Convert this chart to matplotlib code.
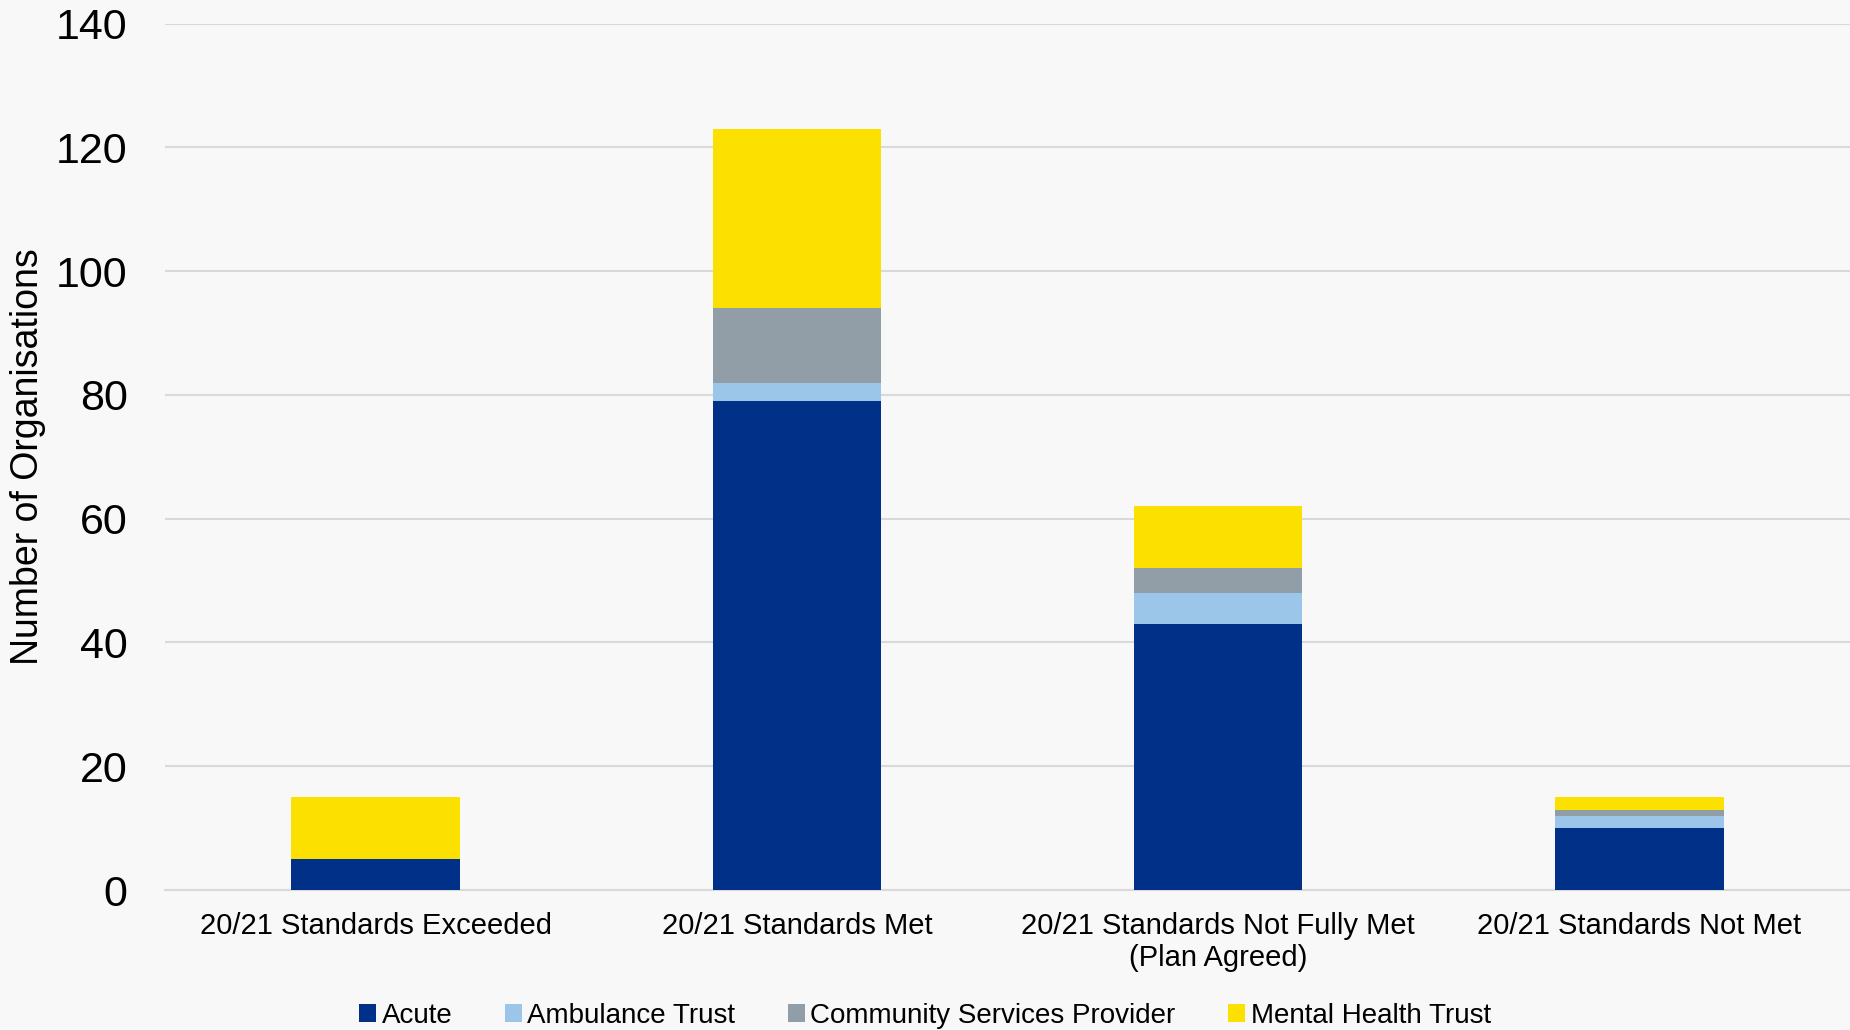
import matplotlib
matplotlib.use("Agg")
import matplotlib.pyplot as plt
import numpy as np

categories = ["20/21 Standards Exceeded", "20/21 Standards Met",
              "20/21 Standards Not Fully Met\n(Plan Agreed)", "20/21 Standards Not Met"]
series_names = ["Acute", "Ambulance Trust", "Community Services Provider", "Mental Health Trust"]
acute = [5, 79, 43, 10]
ambulance = [0, 3, 5, 2]
community = [0, 12, 4, 1]
mental_health = [10, 29, 10, 2]
colors = ["#003087", "#9BC6EA", "#919EA8", "#FCE000"]
yticks = [0, 20, 40, 60, 80, 100, 120, 140]

plt.rcParams['font.family'] = ['Liberation Sans', 'DejaVu Sans']
bg = "#f8f8f8"
fig = plt.figure(figsize=(18.5, 10.3), dpi=100, facecolor=bg)
ax = fig.add_axes([165/1850, 1 - 890/1030, (1850-165)/1850, (890-23.6)/1030])
ax.set_facecolor(bg)

x = np.arange(len(categories))
bottom = np.zeros(len(categories))
for name, vals, c in zip(series_names, [acute, ambulance, community, mental_health], colors):
    ax.bar(x, vals, width=0.4, bottom=bottom, color=c, label=name, zorder=3)
    bottom += np.array(vals)

ax.set_xlim(-0.5, 3.5)
ax.set_ylim(0, 140)
ax.set_yticks(yticks)
ax.set_yticklabels([str(t) for t in yticks], fontsize=31)
ax.set_xticks(x)
ax.set_xticklabels(categories, fontsize=21, linespacing=1.15)
ax.tick_params(axis='both', length=0)
ax.tick_params(axis='y', pad=27)
ax.tick_params(axis='x', pad=16)
ax.grid(axis='y', color='#d9d9d9', linewidth=1.5, zorder=0)
for s in ['top', 'right', 'left']:
    ax.spines[s].set_visible(False)
ax.spines['bottom'].set_color('#d9d9d9')
ax.spines['bottom'].set_linewidth(1.5)
ax.set_ylabel("Number of Organisations", fontsize=27)
ax.yaxis.set_label_coords((46 - 165) / 1685, 0.5)

leg = fig.legend(loc='center', bbox_to_anchor=(0.5, 1 - 1016/1030), ncol=4, frameon=False,
                 fontsize=20, handlelength=0.6, handleheight=0.6, handletextpad=0.2,
                 columnspacing=1.9)

fig.savefig("out.png", dpi=100, facecolor=bg)
